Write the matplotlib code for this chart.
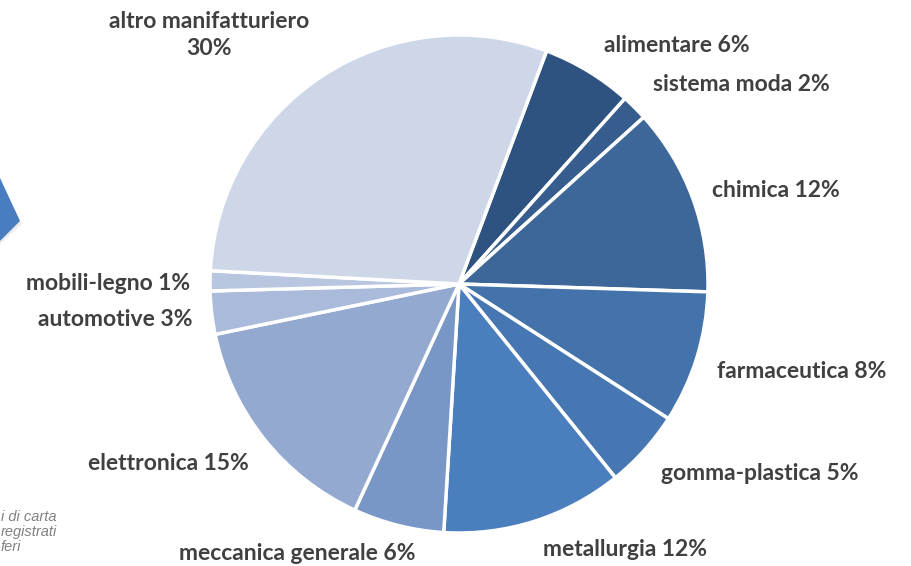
import matplotlib.pyplot as plt
from matplotlib.patches import Polygon

plt.rcParams['font.family'] = ['Lato', 'DejaVu Sans']

# settori in senso orario, a partire da "alimentare"
settori = ['alimentare', 'sistema moda', 'chimica', 'farmaceutica', 'gomma-plastica',
           'metallurgia', 'meccanica generale', 'elettronica', 'automotive',
           'mobili-legno', 'altro manifatturiero']
quote = [5.9, 1.7, 12.2, 8.6, 5.1, 11.8, 5.9, 14.9, 2.8, 1.3, 29.9]
etichette = ['alimentare 6%', 'sistema moda 2%', 'chimica 12%', 'farmaceutica 8%',
             'gomma-plastica 5%', 'metallurgia 12%', 'meccanica generale 6%',
             'elettronica 15%', 'automotive 3%', 'mobili-legno 1%',
             'altro manifatturiero\n30%']
colori = ['#2F5380', '#365D8D', '#3D6699', '#4473AB', '#4677B3', '#4A7EBC',
          '#7896C6', '#94A9D0', '#A9BADA', '#B8C6E0', '#CDD7E8']

W, H = 912, 566
fig = plt.figure(figsize=(W / 100, H / 100), dpi=100)
ax = fig.add_axes([0, 0, 1, 1])

ax.pie(quote, colors=colori, startangle=69.4, counterclock=False,
       center=(459, H - 284), radius=249, frame=True,
       wedgeprops=dict(edgecolor='white', linewidth=2.5))
ax.set_xlim(0, W)
ax.set_ylim(0, H)
ax.set_aspect('equal')
ax.axis('off')

# posizione delle etichette (centro del testo, coordinate pixel dall'alto)
pos = [(677, 45), (741, 84), (776, 190), (802, 371), (760, 474), (625, 549),
       (297, 554), (168, 463), (115, 319), (108, 283), (209, 35)]
for txt, (x, y) in zip(etichette, pos):
    ax.text(x, H - y, txt, ha='center', va='center', fontsize=16.5,
            fontweight='bold', color='#404040', linespacing=1.3)

# residui della slide a sinistra
ax.add_patch(Polygon([(0, H - 181), (22, H - 224), (0, H - 244)], closed=True,
                     facecolor='#dddddd', edgecolor='none', alpha=0.5))
ax.add_patch(Polygon([(0, H - 178), (20, H - 221), (0, H - 241)], closed=True,
                     facecolor='#4A7DC0', edgecolor='none'))
for i, riga in enumerate(['i di carta', 'registrati', 'feri']):
    ax.text(1, H - 517 - i * 15, riga, ha='left', va='center', fontsize=10.5,
            style='italic', color='#808080', family=['Liberation Sans'])

plt.savefig('out.png', dpi=100)
